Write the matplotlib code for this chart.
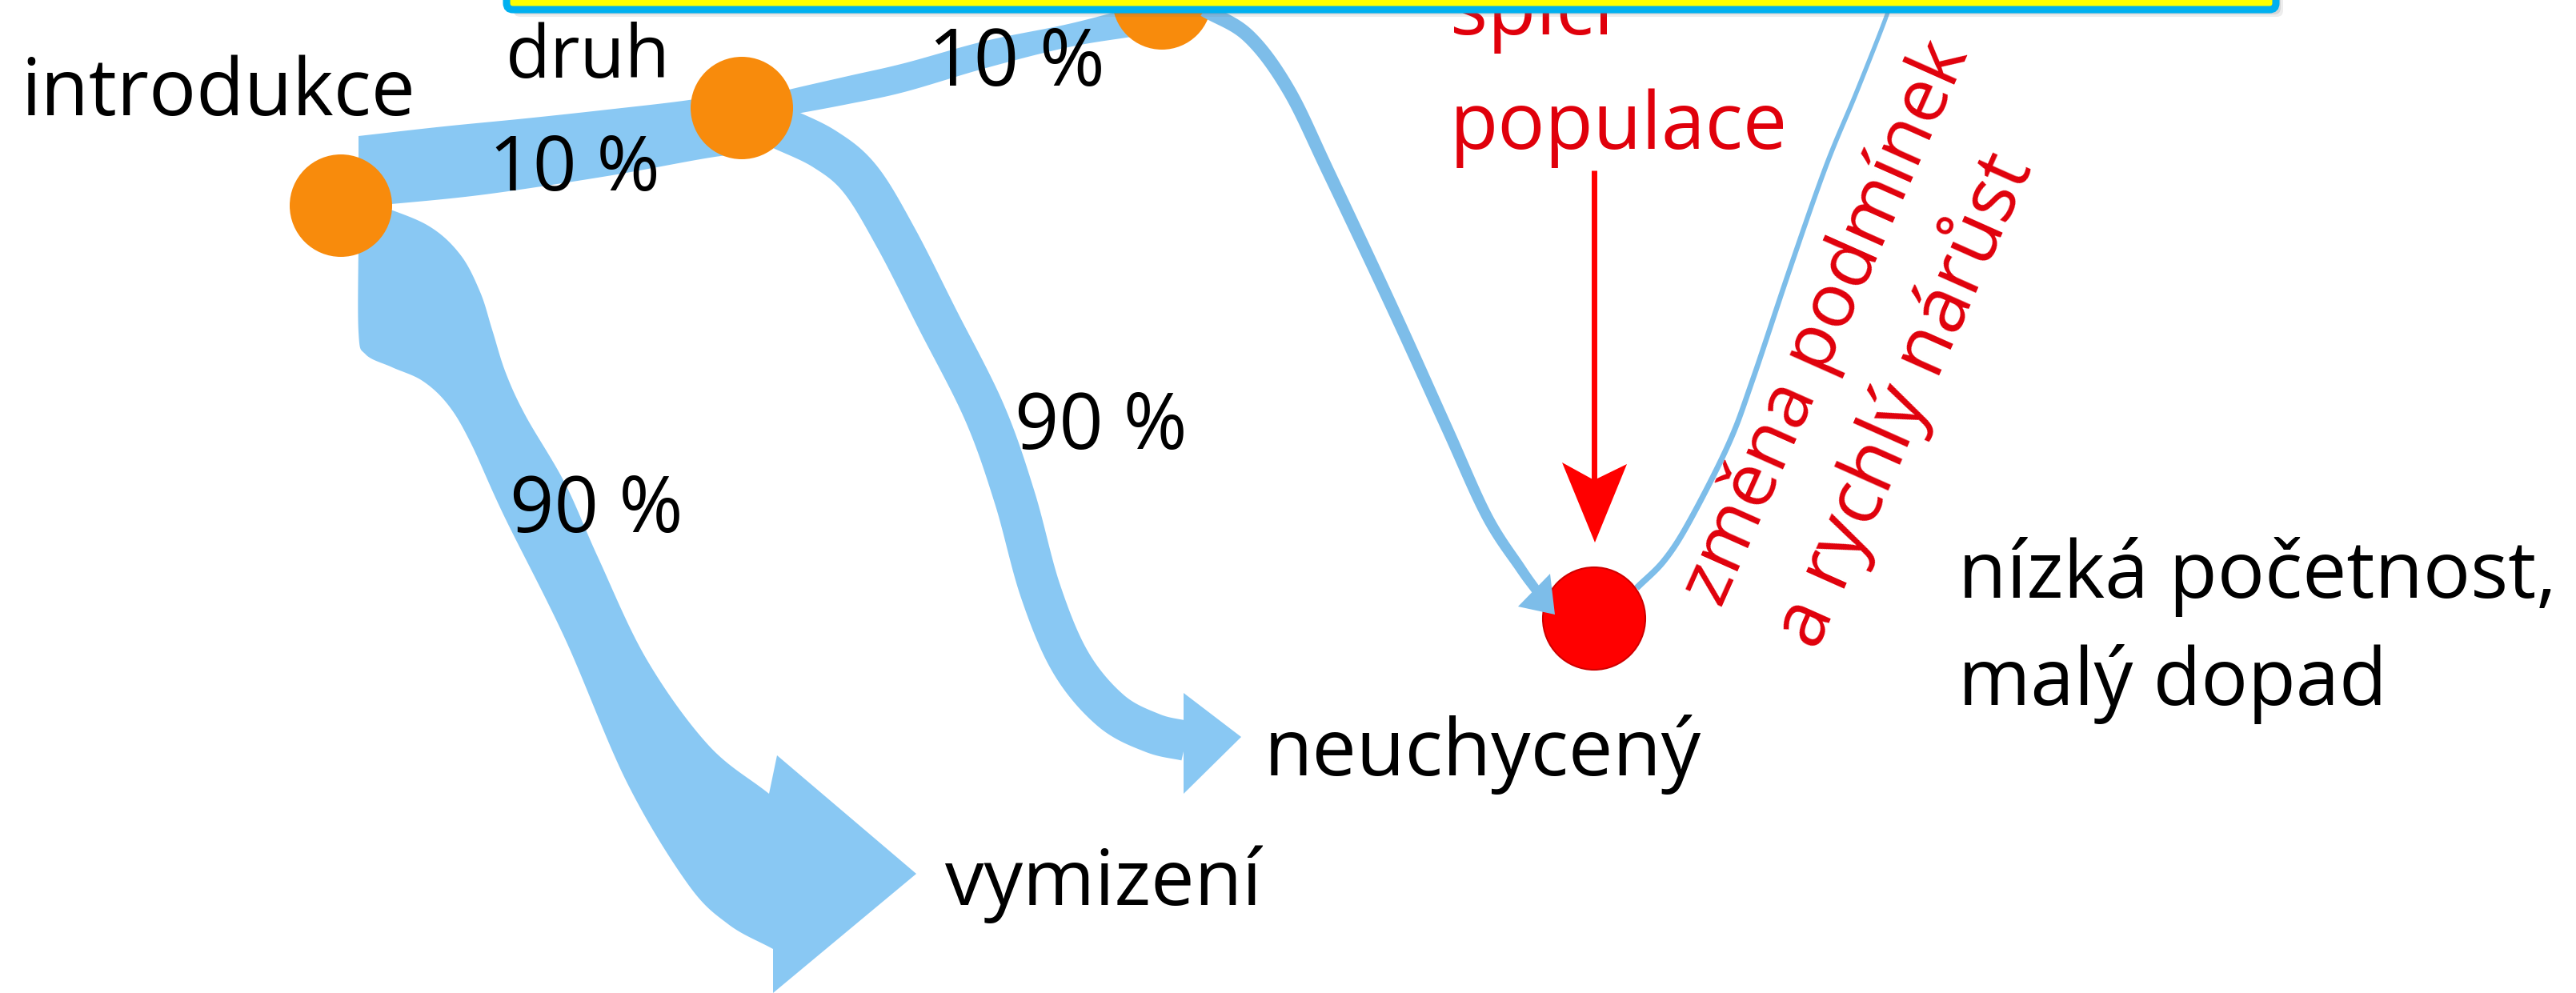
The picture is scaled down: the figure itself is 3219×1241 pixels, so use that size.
import matplotlib
matplotlib.use("Agg")
import matplotlib.pyplot as plt
import numpy as np
from matplotlib.patches import Polygon, Circle, FancyBboxPatch

# ---------------- data ----------------
success_share = 10          # % of species passing each stage
failure_share = 90          # % of species failing each stage
stage_labels = ["introdukce", "druh"]
outcome_labels = ["vymizení", "neuchycený"]
impact_labels = ["nízká početnost,", "malý dopad"]
dormant_labels = ["spící", "populace"]
trigger_labels = ["změna podmínek", "a rychlý nárůst"]
pct_success = f"{success_share} %"
pct_failure = f"{failure_share} %"

# ---------------- style ----------------
W, H, DPI = 3219, 1241, 100
FONT = ["Open Sans", "DejaVu Sans"]
FLOW = "#89C8F3"
LINE = "#7DBDE9"
ORANGE = "#F88B0C"
RED = "#FF0000"
TXT_RED = "#E0000B"

fig = plt.figure(figsize=(W / DPI, H / DPI), dpi=DPI)
ax = fig.add_axes([0, 0, 1, 1])
ax.set_xlim(0, W)
ax.set_ylim(H, 0)
ax.axis("off")
renderer = fig.canvas.get_renderer()


def smooth(pts, n=24):
    P = np.asarray(pts, float)
    P = np.vstack([2 * P[0] - P[1], P, 2 * P[-1] - P[-2]])
    out = []
    t = np.linspace(0, 1, n, endpoint=False)[:, None]
    for i in range(1, len(P) - 2):
        p0, p1, p2, p3 = P[i - 1], P[i], P[i + 1], P[i + 2]
        out.append(0.5 * ((2 * p1) + (-p0 + p2) * t + (2 * p0 - 5 * p1 + 4 * p2 - p3) * t ** 2
                          + (-p0 + 3 * p1 - 3 * p2 + p3) * t ** 3))
    out.append(P[-2][None, :])
    return np.vstack(out)


def ribbon(pts, w0, w1):
    c = smooth(pts)
    d = np.gradient(c, axis=0)
    d /= np.linalg.norm(d, axis=1)[:, None]
    nrm = np.column_stack([-d[:, 1], d[:, 0]])
    w = np.linspace(w0, w1, len(c))[:, None] / 2
    return np.vstack([c + nrm * w, (c - nrm * w)[::-1]])


def shape(edge_a, head, edge_b):
    return np.vstack([smooth(edge_a), np.asarray(head, float), smooth(edge_b)])


def fill(poly, color=FLOW, z=1):
    ax.add_patch(Polygon(poly, closed=True, fc=color, ec="none", zorder=z))


def fit_text(x, y, s, width, color="black", rot=0, fs=None, z=5):
    if fs is None:
        t = ax.text(0, 0, s, fontsize=50, family=FONT)
        w = t.get_window_extent(renderer).width
        t.remove()
        fs = 50 * width / w
    ax.text(x, y, s, fontsize=fs, family=FONT, color=color, ha="left",
            va="baseline", rotation=rot, rotation_mode="anchor", zorder=z)
    return fs


# ---------------- flows ----------------
# 10 % band introdukce -> druh
fill(np.vstack([smooth([(448, 170), (555, 158), (657, 148), (759, 137), (861, 125), (935, 112)]),
                smooth([(935, 192), (887, 197), (759, 220), (606, 243), (489, 255), (448, 258)])]))
# 10 % band druh -> next stage
fill(np.vstack([smooth([(950, 122), (986, 112), (1060, 95), (1130, 79), (1232, 51), (1335, 30), (1420, 8)]),
                smooth([(1420, 45), (1335, 59), (1232, 85), (1130, 115), (1060, 130), (996, 142), (950, 150)])]))
# 90 % -> vymizení (wide arrow)
fill(shape([(470, 255), (535, 282), (575, 318), (600, 365), (615, 412), (632, 466), (657, 520),
            (706, 604), (747, 696), (808, 824), (885, 931), (961, 992)],
           [(971, 944), (1145, 1092), (966, 1241)],
           [(966, 1186), (910, 1155), (859, 1104), (783, 977), (706, 798), (630, 645), (588, 553),
            (560, 506), (528, 476), (490, 459), (457, 443), (448, 415), (448, 290)]))
# 90 % -> neuchycený
fill(ribbon([(972, 158), (1030, 186), (1075, 224), (1120, 298), (1171, 398), (1230, 515),
             (1268, 622), (1300, 738), (1338, 828), (1388, 888), (1440, 916), (1482, 926)], 54, 50))
fill([(1479, 866), (1551, 921), (1479, 992)])
# 90 % -> dormant population (thin arrow)
fill(ribbon([(1505, 12), (1560, 45), (1610, 112), (1660, 215), (1740, 385), (1808, 535),
             (1858, 645), (1900, 710), (1920, 738)], 18, 12), LINE, z=4)
fill([(1937, 717), (1943, 768), (1897, 758)], LINE, z=4)
# dormant population -> rapid growth line
fill(ribbon([(2045, 735), (2080, 700), (2112, 650), (2160, 555), (2190, 475), (2237, 335),
             (2282, 207), (2320, 115), (2357, 21), (2362, 0)], 8, 5), LINE, z=2)

# ---------------- nodes ----------------
for (cx, cy, r) in [(426, 257, 64), (927, 135, 64), (1452, 0, 62)]:
    ax.add_patch(Circle((cx, cy), r, fc=ORANGE, ec="none", zorder=3))
ax.add_patch(Circle((1992, 773), 64, fc=RED, ec="#D00000", lw=1.5, zorder=3))

# red arrow
ax.plot([1992, 1992], [213, 600], color=RED, lw=5, solid_capstyle="butt", zorder=4)
fill([(1952, 578), (1992, 600), (2033, 580), (1993, 678)], RED, z=4)

# ---------------- texts ----------------
fit_text(26, 144, stage_labels[0], 493)
fit_text(632, 97, stage_labels[1], 206)
fit_text(611, 238, pct_success, 214)
fit_text(1160, 107, pct_success, 221)
fit_text(1268, 561, pct_failure, 216)
fit_text(637, 665, pct_failure, 217)
fit_text(1181, 1131, outcome_labels[0], 396)
fit_text(1580, 969, outcome_labels[1], 547)
fit_text(2447, 747, impact_labels[0], 748)
fit_text(2447, 881, impact_labels[1], 536)
fs_red = fit_text(1812, 186, dormant_labels[1], 423, TXT_RED)
fit_text(1812, 43, dormant_labels[0], None, TXT_RED, fs=fs_red, z=5)
fit_text(2151, 761, trigger_labels[0], 760, TXT_RED, rot=66)
fit_text(2270, 815, trigger_labels[1], 664, TXT_RED, rot=66)

# ---------------- banner (top, cut) ----------------
for off, a in [(9, 0.12), (6, 0.18), (3, 0.25)]:
    ax.add_patch(FancyBboxPatch((633 + off, -120 + off), 2211, 132,
                                boxstyle="round,pad=0,rounding_size=8",
                                fc="#6E6E6E", ec="none", alpha=a, zorder=9))
ax.add_patch(FancyBboxPatch((633, -120), 2211, 132, boxstyle="round,pad=0,rounding_size=8",
                            fc="#FFFF00", ec="#00B0F0", lw=6.5, zorder=10))

fig.savefig("out.png", dpi=DPI, facecolor="white")
